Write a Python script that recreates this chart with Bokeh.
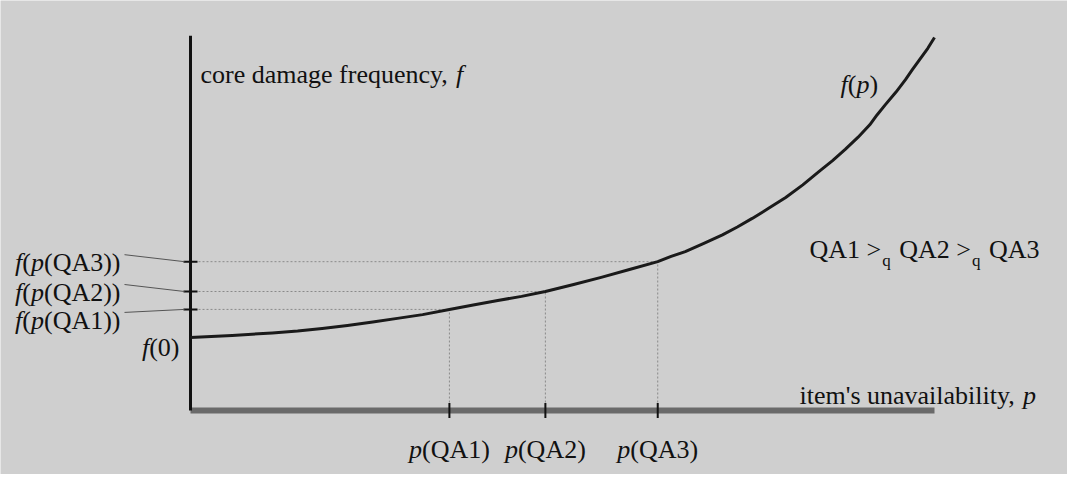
from bokeh.plotting import figure
from bokeh.models import Range1d
from bokeh.core.properties import value
from bokeh.embed import file_html
from bokeh.resources import INLINE

# ---------------- data ----------------
# curve f(p): item's unavailability p (0..1) vs core damage frequency f (0..1)
P_CURVE = [0.0, 0.056, 0.110, 0.144, 0.177, 0.211, 0.245, 0.278, 0.312, 0.348,
           0.380, 0.413, 0.445, 0.477, 0.515, 0.552, 0.590, 0.628, 0.646, 0.665,
           0.690, 0.715, 0.735, 0.755, 0.777, 0.800, 0.823, 0.845, 0.863, 0.880,
           0.897, 0.913, 0.923, 0.934, 0.948, 0.961, 0.970, 0.980, 0.991, 1.0]
F_CURVE = [0.196, 0.201, 0.208, 0.213, 0.220, 0.228, 0.237, 0.247, 0.257, 0.271,
           0.283, 0.295, 0.306, 0.319, 0.338, 0.357, 0.378, 0.399, 0.413, 0.426,
           0.448, 0.471, 0.492, 0.515, 0.542, 0.571, 0.605, 0.641, 0.670, 0.700,
           0.732, 0.766, 0.793, 0.820, 0.853, 0.887, 0.913, 0.941, 0.971, 1.0]

QA_NAMES = ["QA1", "QA2", "QA3"]
P_QA = [0.348, 0.477, 0.628]
F_QA = [0.271, 0.319, 0.399]
F_ZERO = 0.196
AXIS_F_TOP = 1.005
AXIS_P_END = 1.0

Y_LABEL_TEXT = "core damage frequency,"
Y_LABEL_VAR = "f"
X_LABEL_TEXT = "item's unavailability,"
X_LABEL_VAR = "p"
CURVE_LABEL = [("f", "italic"), ("(", "normal"), ("p", "italic"), (")", "normal")]
ORDER_PARTS = ["QA1 >", "QA2 >", "QA3"]
ORDER_SUB = "q"

# ---------------- layout / style ----------------
W, H = 1067, 474
ORIGIN_X, ORIGIN_Y = 190, 410          # figure px of (p=0, f=0), y from top
PX_P, PX_F = 744.0, 373.0              # px per unit
BG = "#cfcfcf"
INK = "#111111"
FONT = value("Liberation Serif")
FS = 26
SUB_FS = 17
LABEL_DROP = [11, 1, 1]               # baseline of left labels below tick (px)

def hx(px):
    return px / PX_P

def vy(px):
    return px / PX_F

def page(x, y):
    # page pixel (8px margin) -> data
    return hx(x - 8 - ORIGIN_X), vy(ORIGIN_Y - (y - 8))

ROMAN = {'(': .333, ')': .333, 'Q': .722, 'A': .722, '0': .5, '1': .5, '2': .5, '3': .5,
         ' ': .25, '>': .564, ',': .25, "'": .18,
         'a': .444, 'b': .5, 'c': .444, 'd': .5, 'e': .444, 'f': .333, 'g': .5, 'h': .5,
         'i': .278, 'j': .278, 'k': .5, 'l': .278, 'm': .778, 'n': .5, 'o': .5, 'p': .5,
         'q': .5, 'r': .333, 's': .389, 't': .278, 'u': .5, 'v': .5, 'w': .722, 'x': .5,
         'y': .5, 'z': .444}
ITALIC = {'f': .278, 'p': .5}

def tw(s, style="normal", size=FS):
    t = ITALIC if style == "italic" else ROMAN
    return sum(t.get(c, .5) for c in s) * size

SPACE = tw(" ")

p = figure(width=W, height=H, output_backend="svg", toolbar_location=None,
           x_range=Range1d(-ORIGIN_X / PX_P, (W - ORIGIN_X) / PX_P),
           y_range=Range1d(-(H - ORIGIN_Y) / PX_F, ORIGIN_Y / PX_F),
           x_axis_type=None, y_axis_type=None, min_border=0,
           background_fill_color=BG, border_fill_color=BG, outline_line_color=None)
p.grid.visible = False

# dotted guide lines
p.segment(x0=[0] * 3, y0=F_QA, x1=P_QA, y1=F_QA, line_color="#8a8a8a",
          line_width=1, line_dash="2 2")
p.segment(x0=P_QA, y0=[0] * 3, x1=P_QA, y1=F_QA, line_color="#8a8a8a",
          line_width=1, line_dash="2 2")

# axes
p.segment(x0=[0], y0=[0], x1=[AXIS_P_END], y1=[0], line_color="#6a6a6a", line_width=6)
p.segment(x0=[0], y0=[0], x1=[0], y1=[AXIS_F_TOP], line_color="#111111", line_width=3)

# ticks
p.scatter(x=[0] * 3, y=F_QA, marker="dash", size=14, line_color="#111111", line_width=2)
p.scatter(x=P_QA, y=[0] * 3, marker="dash", angle=1.5708, size=15,
          line_color="#111111", line_width=2)

# curve
p.line(P_CURVE, F_CURVE, line_color="#1a1a1a", line_width=3, line_join="round")

# ---------------- text ----------------
texts = {}

def put(x, y, s, style="normal", size=FS, align="left"):
    texts.setdefault((style, size, align), {"x": [], "y": [], "text": []})
    d = texts[(style, size, align)]
    d["x"].append(x)
    d["y"].append(y)
    d["text"].append(s)

# left labels f(p(QAn)) with leader lines
lx0, ly0, lx1, ly1 = [], [], [], []
for name, f, drop in zip(QA_NAMES, F_QA, LABEL_DROP):
    base = f - vy(drop)
    parts = [("f", "italic"), ("(", "normal"), ("p", "italic"), ("(" + name + "))", "normal")]
    cur = -70
    for s, st in reversed(parts):
        put(hx(cur), base, s, st, align="right")
        cur -= tw(s, st)
    lx0.append(hx(-66)); ly0.append(base + vy(8))
    lx1.append(hx(-6)); ly1.append(f)
p.segment(x0=lx0, y0=ly0, x1=lx1, y1=ly1, line_color="#555555", line_width=1)

# f(0)
base0 = F_ZERO - vy(10)
put(hx(-11), base0, "(0)", "normal", align="right")
put(hx(-11 - tw("(0)")), base0, "f", "italic", align="right")

# x tick labels p(QAn)
for name, px in zip(QA_NAMES, P_QA):
    rest = "(" + name + ")"
    total = tw("p", "italic") + tw(rest)
    left = -total / 2
    put(px + hx(left), -vy(39), "p", "italic")
    put(px + hx(left + tw("p", "italic")), -vy(39), rest)

# axis titles
x0, y0 = page(208, 82)
put(x0, y0, Y_LABEL_TEXT)
put(x0 + hx(tw(Y_LABEL_TEXT) + SPACE), y0, Y_LABEL_VAR, "italic")
x0, y0 = page(807, 403)
put(x0, y0, X_LABEL_TEXT)
put(x0 + hx(tw(X_LABEL_TEXT) + SPACE), y0, X_LABEL_VAR, "italic")

# curve label f(p)
x0, y0 = page(848, 92)
cur = 0
for s, st in CURVE_LABEL:
    put(x0 + hx(cur), y0, s, st)
    cur += tw(s, st)

# ordering relation QA1 >q QA2 >q QA3
x0, y0 = page(817, 257)
cur = 0
for i, s in enumerate(ORDER_PARTS):
    put(x0 + hx(cur), y0, s)
    cur += tw(s)
    if i < len(ORDER_PARTS) - 1:
        put(x0 + hx(cur + 1), y0 - vy(11), ORDER_SUB, size=SUB_FS)
        cur += 1 + tw(ORDER_SUB, size=SUB_FS) + SPACE + 2

for (style, size, align), d in texts.items():
    p.text(x=d["x"], y=d["y"], text=d["text"], text_font=FONT,
           text_font_size=f"{size}px", text_font_style=style, text_color=INK,
           text_align=align, text_baseline="alphabetic")

html = file_html(p, INLINE)
html = html.replace("<head>", "<head><style>html,body{overflow:hidden}</style>", 1)
open("out.html", "w").write(html)
